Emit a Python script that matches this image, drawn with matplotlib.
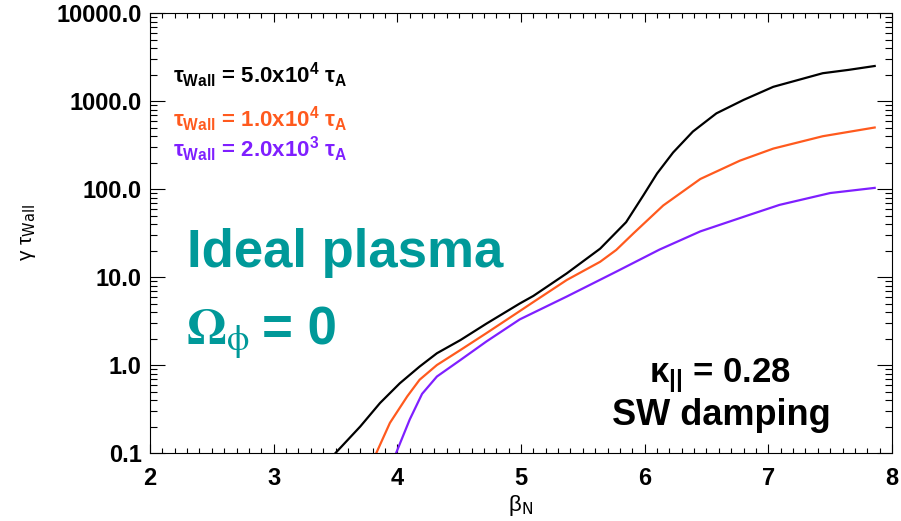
import matplotlib
matplotlib.use("Agg")
import matplotlib.pyplot as plt
from matplotlib.ticker import LogLocator, NullFormatter, FormatStrFormatter, MultipleLocator

plt.rcParams['font.family'] = ['Liberation Sans', 'DejaVu Sans']
plt.rcParams['mathtext.fontset'] = 'custom'
plt.rcParams['mathtext.rm'] = 'Liberation Sans:bold'
plt.rcParams['mathtext.it'] = 'Liberation Sans:bold'
plt.rcParams['mathtext.bf'] = 'Liberation Sans:bold'

# data
beta_black = [3.50, 3.70, 3.86, 4.02, 4.18, 4.32, 4.51, 4.72, 4.99, 5.10, 5.37, 5.64, 5.85, 5.99,
              6.10, 6.23, 6.39, 6.58, 6.80, 7.04, 7.44, 7.65, 7.86]
gam_black = [0.10, 0.20, 0.37, 0.62, 0.96, 1.36, 1.92, 2.95, 5.0, 6.1, 11.0, 21, 42, 85,
             150, 260, 450, 724, 1030, 1450, 2070, 2260, 2500]

beta_orange = [3.83, 3.94, 4.08, 4.18, 4.32, 4.51, 4.72, 4.99, 5.10, 5.37, 5.64, 5.77, 5.91,
               6.15, 6.45, 6.77, 7.04, 7.44, 7.86]
gam_orange = [0.10, 0.22, 0.44, 0.68, 1.0, 1.48, 2.3, 4.1, 5.2, 9.25, 14.9, 20.3, 31.4,
              65, 130, 210, 288, 398, 500]

beta_purple = [3.99, 4.10, 4.20, 4.32, 4.51, 4.72, 4.99, 5.37, 5.77, 6.12, 6.45, 6.85, 7.09, 7.50, 7.86]
gam_purple = [0.10, 0.24, 0.47, 0.74, 1.14, 1.85, 3.3, 6.0, 11.5, 20.5, 33, 51, 66, 90, 103]

labels = [r'$\tau_{Wall}$ = 5.0x10$^{4}$ $\tau_{A}$',
          r'$\tau_{Wall}$ = 1.0x10$^{4}$ $\tau_{A}$',
          r'$\tau_{Wall}$ = 2.0x10$^{3}$ $\tau_{A}$']
colors = ['black', '#ff5a1e', '#7f1fff']
teal = '#009999'

fig = plt.figure(figsize=(9.01, 5.21), dpi=100)
ax = fig.add_axes([0.1665, 0.1305, 0.8235, 0.8445])

ax.plot(beta_black, gam_black, color=colors[0], lw=1.6)
ax.plot(beta_orange, gam_orange, color=colors[1], lw=1.6)
ax.plot(beta_purple, gam_purple, color=colors[2], lw=1.6)

ax.set_yscale('log')
ax.set_xlim(2, 8)
ax.set_ylim(0.1, 10000)
ax.xaxis.set_major_locator(MultipleLocator(1))
ax.xaxis.set_minor_locator(MultipleLocator(0.1))
ax.yaxis.set_major_locator(LogLocator(base=10))
ax.yaxis.set_minor_locator(LogLocator(base=10, subs=range(2, 10)))
ax.yaxis.set_major_formatter(FormatStrFormatter('%.1f'))
ax.yaxis.set_minor_formatter(NullFormatter())

ax.tick_params(axis='both', which='both', direction='in', top=True, right=True, width=0.8)
ax.tick_params(axis='y', which='major', length=11, pad=6)
ax.tick_params(axis='y', which='minor', length=5)
ax.tick_params(axis='x', which='major', length=6.5, pad=10)
ax.tick_params(axis='x', which='minor', length=3.5)
for lab in ax.get_xticklabels() + ax.get_yticklabels():
    lab.set_fontsize(17)
    lab.set_fontweight('bold')
for sp in ax.spines.values():
    sp.set_linewidth(0.8)

ax.set_xlabel(r'β$_{\mathrm{N}}$', fontsize=16, math_fontfamily='dejavusans', labelpad=2)
ax.set_ylabel(r'γ τ$_{\mathrm{Wall}}$', fontsize=15, math_fontfamily='dejavusans', labelpad=13)

for lab, c, y in zip(labels, colors, [1603, 507, 231]):
    ax.text(2.186, y, lab, color=c, fontsize=16, fontweight='bold', va='baseline', ha='left')

ax.text(2.30, 13.0, 'Ideal plasma', color=teal, fontsize=38, fontweight='bold', va='baseline')
ax.text(2.29, 1.69, r'$\mathbf{\Omega}_{\mathrm{\phi}}$', color=teal, fontsize=37,
        math_fontfamily='stix', va='baseline')
ax.text(2.905, 1.69, '= 0', color=teal, fontsize=38, fontweight='bold', va='baseline')

ax.text(6.61, 0.641, r'$\kappa_{||}$ = 0.28', fontsize=25, fontweight='bold', ha='center', va='baseline')
ax.text(6.62, 0.208, 'SW damping', fontsize=26, fontweight='bold', ha='center', va='baseline')

fig.savefig('out.png', dpi=100)
